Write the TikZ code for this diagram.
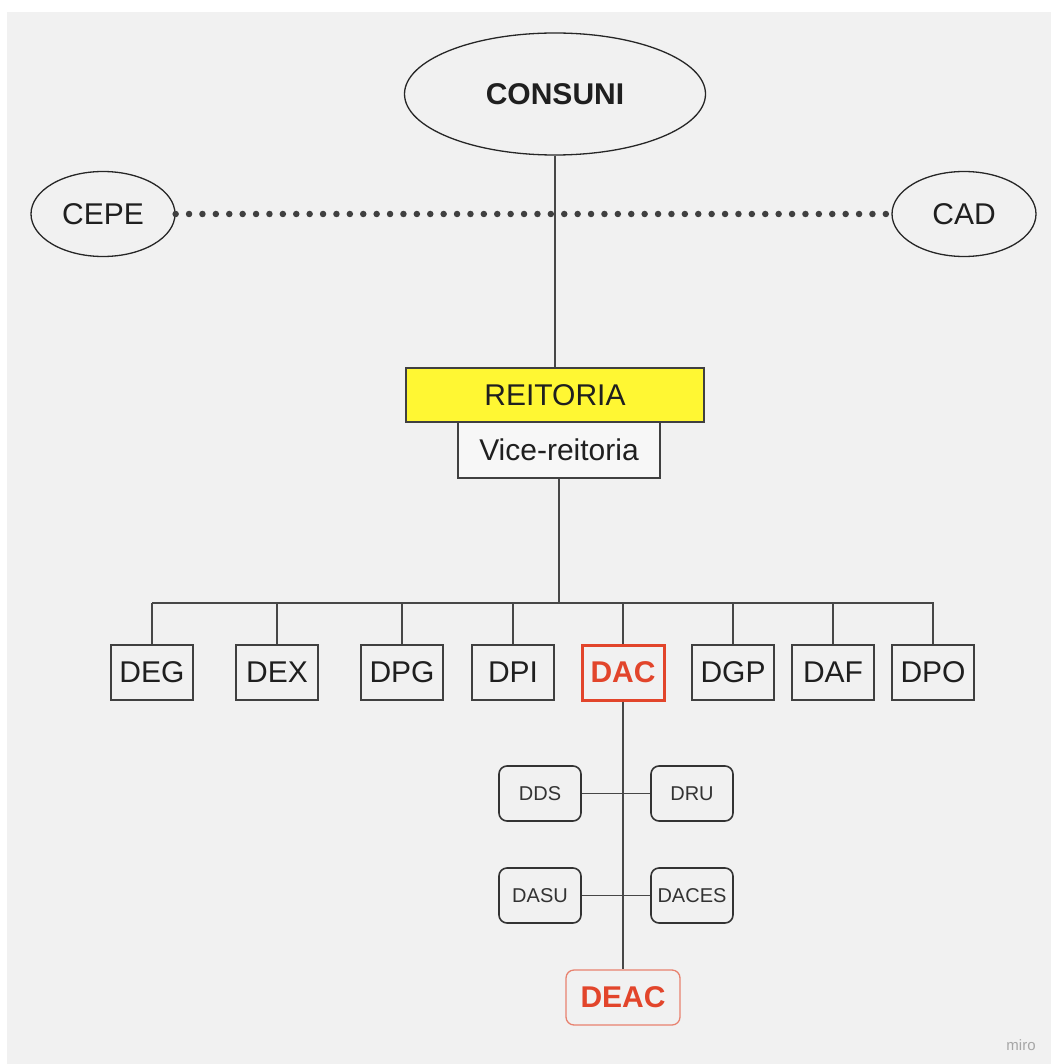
\documentclass[tikz,border=0pt]{standalone}
\usepackage{fontspec}
\usepackage{xcolor}
\usepackage{tikz}
\usetikzlibrary{shapes.geometric}
\setmainfont{Liberation Sans}

\definecolor{bggray}{HTML}{F1F1F1}
\definecolor{linegray}{HTML}{474747}
\definecolor{dacred}{HTML}{E2452B}
\definecolor{deacred}{HTML}{E8826F}
\definecolor{reityellow}{HTML}{FFF733}

\begin{document}
\begin{tikzpicture}[x=1pt,y=-1pt,
  conselho/.style={ellipse,draw=black!85,line width=1.3pt,inner sep=0pt,text=black!88,font=\fontsize{30}{36}\selectfont},
  dirbox/.style={rectangle,draw=black!75,line width=1.6pt,minimum width=82pt,minimum height=55pt,inner sep=0pt,text=black!88,font=\fontsize{30}{36}\selectfont},
  subbox/.style={rectangle,rounded corners=8pt,draw=black!80,line width=1.6pt,minimum width=82pt,minimum height=55pt,inner sep=0pt,font=\fontsize{20}{24}\selectfont,text=black!80},
  conn/.style={draw=linegray,line width=1.9pt}]

\useasboundingbox (0,0) rectangle (1051,1064);
\fill[white] (0,0) rectangle (1051,1064);
\fill[bggray] (7,12) rectangle (1051,1064);

    \node[conselho,minimum width=301pt,minimum height=122pt] (consuni) at (555,94) {\bfseries CONSUNI};
    \node[conselho,minimum width=144pt,minimum height=85pt] (cepe) at (103,214) {CEPE};
    \node[conselho,minimum width=144pt,minimum height=85pt] (cad) at (964,214) {CAD};

    \node[dirbox,fill=reityellow,minimum width=298pt,minimum height=54pt] (reitoria) at (555,395) {REITORIA};
    \node[dirbox,fill=bggray!60!white,minimum width=202pt,minimum height=56pt] (vice) at (559,450) {Vice-reitoria};

    \node[dirbox] (deg) at (152,672.5) {DEG};
    \node[dirbox] (dex) at (277,672.5) {DEX};
    \node[dirbox] (dpg) at (402,672.5) {DPG};
    \node[dirbox] (dpi) at (513,672.5) {DPI};
    \node[dirbox,draw=dacred,line width=3pt,text=dacred] (dac) at (623,672.5) {\bfseries DAC};
    \node[dirbox] (dgp) at (733,672.5) {DGP};
    \node[dirbox] (daf) at (833,672.5) {DAF};
    \node[dirbox] (dpo) at (933,672.5) {DPO};

    \node[subbox] (dds) at (540,793.5) {DDS};
    \node[subbox] (dru) at (692,793.5) {DRU};
    \node[subbox] (dasu) at (540,895.5) {DASU};
    \node[subbox] (daces) at (692,895.5) {DACES};
    \node[subbox,draw=deacred,line width=1.3pt,minimum width=114pt,text=dacred,font=\fontsize{30}{36}\selectfont] (deac) at (623,997.5) {\bfseries DEAC};

    \node[text=black!35,font=\fontsize{15}{18}\selectfont] (miro) at (1021,1045) {miro};

    % draw the links
    \draw[black!75,line width=6.5pt,line cap=round,dash pattern=on 0pt off 13.4pt] (cepe.east) -- (cad.west);
    \draw[conn] (consuni.south) -- (reitoria.north);

    \coordinate (busl) at (152,603);
    \coordinate (busr) at (934,603);
    \draw[conn] (vice.south) -- (vice.south |- busl);
    \draw[conn] (busl) -- (busr);
    \foreach \d in {deg,dex,dpg,dpi,dac,dgp,daf,dpo}
        \draw[conn] (\d.north) -- (\d.north |- busl);

    \draw[conn] (dac.south) -- (deac.north);
    \draw[conn] (dds.east) -- (dru.west);
    \draw[conn] (dasu.east) -- (daces.west);

\end{tikzpicture}
\end{document}
